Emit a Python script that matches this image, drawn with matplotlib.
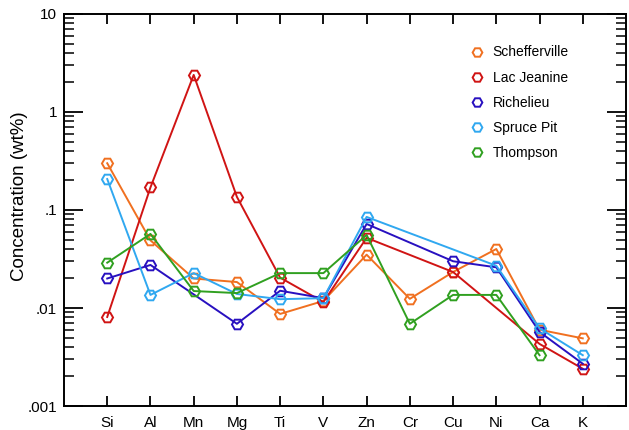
import numpy as np
import matplotlib
matplotlib.use("Agg")
import matplotlib.pyplot as plt
from matplotlib.ticker import FixedLocator, FixedFormatter, LogLocator, NullFormatter

plt.rcParams['font.family'] = ['Liberation Sans', 'DejaVu Sans']

elements = ['Si', 'Al', 'Mn', 'Mg', 'Ti', 'V', 'Zn', 'Cr', 'Cu', 'Ni', 'Ca', 'K']
nan = np.nan

schefferville = [0.30, 0.049, 0.020, 0.0184, 0.0087, 0.0118, 0.035, 0.0124, 0.0233, 0.040, 0.0060, 0.0049]
lac_jeanine = [0.0081, 0.17, 2.39, 0.136, 0.0204, 0.0115, 0.052, nan, 0.0233, nan, 0.0043, 0.0024]
richelieu = [0.020, 0.0275, nan, 0.0069, 0.015, 0.0126, 0.072, nan, 0.030, 0.026, 0.0057, 0.0027]
spruce_pit = [0.207, 0.0136, 0.0227, 0.0139, 0.0123, 0.0126, 0.085, nan, nan, 0.027, 0.0062, 0.0033]
thompson = [0.029, 0.057, 0.0149, 0.0142, 0.0227, 0.0227, 0.0556, 0.0069, 0.0136, 0.0136, 0.0033, nan]

series = [
    ('Schefferville', schefferville, '#f07020'),
    ('Lac Jeanine', lac_jeanine, '#d01414'),
    ('Richelieu', richelieu, '#2810c0'),
    ('Spruce Pit', spruce_pit, '#30a8f0'),
    ('Thompson', thompson, '#30a020'),
]

ytick_vals = [0.001, 0.01, 0.1, 1, 10]
ytick_labels = ['.001', '.01', '.1', '1', '10']

fig = plt.figure(figsize=(6.29, 4.30), dpi=100)
ax = fig.add_axes([64 / 629, 1 - 406 / 430, 562 / 629, 392 / 430])

x = np.arange(len(elements))
handles = []
for name, vals, color in series:
    y = np.array(vals, dtype=float)
    ok = ~np.isnan(y)
    # skip missing values but keep the line connected
    ax.plot(x[ok], y[ok], '-', color=color, lw=1.4)
    ax.plot(x[ok], y[ok], 'H', ms=8, mfc='none', mec=color, mew=1.4)
    h, = ax.plot([], [], 'H', ms=7, mfc='none', mec=color, mew=1.4, ls='none', label=name)
    handles.append(h)

ax.set_yscale('log')
ax.set_ylim(0.001, 10)
ax.set_xlim(-1, 12)
ax.set_xticks(x)
ax.set_xticklabels(elements, fontsize=11)
ax.yaxis.set_major_locator(FixedLocator(ytick_vals))
ax.yaxis.set_major_formatter(FixedFormatter(ytick_labels))
ax.yaxis.set_minor_locator(LogLocator(base=10, subs=np.arange(2, 10)))
ax.yaxis.set_minor_formatter(NullFormatter())
ax.tick_params(axis='y', which='major', direction='in', length=13.5, width=1.3,
               right=True, labelsize=11, pad=5)
ax.tick_params(axis='y', which='minor', direction='in', length=7, width=1.1, right=True)
ax.tick_params(axis='x', which='major', direction='in', length=7, width=1.3,
               top=True, pad=7)
for s in ax.spines.values():
    s.set_linewidth(1.4)

ax.set_ylabel('Concentration (wt%)', fontsize=13.5)
ax.yaxis.set_label_coords(-36 / 562, 0.535)

fig.legend(handles=handles, loc='upper left', bbox_to_anchor=(458 / 629, 1 - 33 / 430),
           frameon=False, fontsize=10, handlelength=1.0, handletextpad=0.6,
           labelspacing=0.8)

fig.savefig('out.png', dpi=100)
